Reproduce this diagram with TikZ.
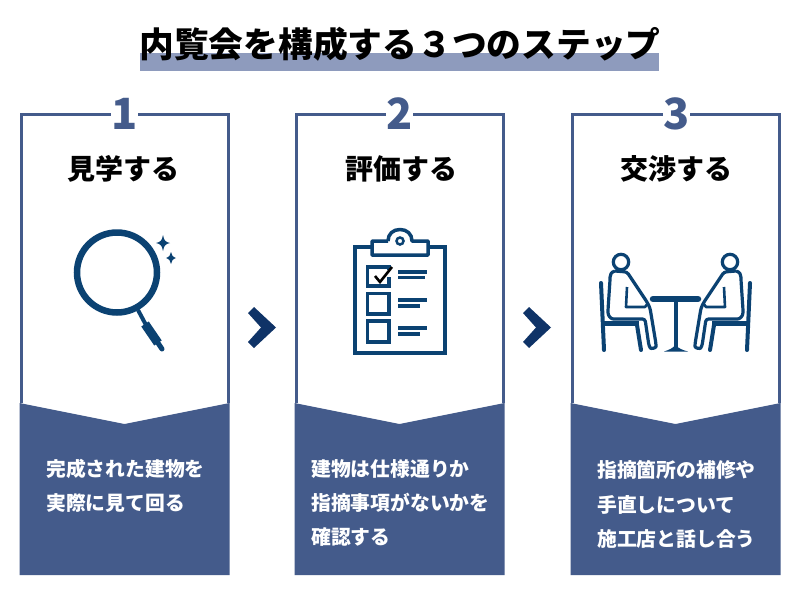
\documentclass[tikz,border=0pt]{standalone}
\usepackage{fontspec}
\setmainfont{Noto Sans CJK JP}
\definecolor{panelc}{HTML}{445B8B}
\definecolor{hl}{HTML}{8E9BBD}
\definecolor{iconc}{HTML}{0B4272}
\definecolor{arrowc}{HTML}{0F3367}
\tikzset{
  panelline/.style={draw=panelc,line width=3pt},
  panelfill/.style={fill=panelc},
  numlabel/.style={font=\fontsize{43}{43}\selectfont\bfseries,text=panelc,fill=white,inner sep=0pt,minimum width=26pt,minimum height=30pt},
  heading/.style={font=\fontsize{28}{30}\selectfont\bfseries,text=black,inner sep=0pt},
  bodytext/.style={font=\fontsize{19.8}{20}\selectfont\bfseries,text=white,inner sep=0pt,anchor=west},
  titletext/.style={font=\fontsize{34.75}{36}\selectfont\bfseries,text=black,inner sep=0pt},
  ic/.style={draw=iconc,line width=3.2pt},
  chev/.style={fill=arrowc},
}
\newcommand{\panelat}[5]{%
  \begin{scope}[shift={(#1,0)}]
    \fill[panelfill] (19.5,403) -- (124.5,424) -- (229.5,403) -- (229.5,575) -- (19.5,575) -- cycle;
    \draw[panelline] (21,403) -- (21,114) -- (228,114) -- (228,403);
    \node[numlabel] (num#2) at (#4,114) {#2};
    \node[heading] (head#2) at (#5,169) {#3};
  \end{scope}}
\newcommand{\personicon}{%
  \draw[ic] (621,262) circle (7.7);
  \draw[ic,line join=round,rounded corners=2.5pt] (615,271) .. controls (611,272) and (610,275) .. (610,280) -- (608,310) .. controls (608,316) and (611,319) .. (616,319) -- (645,319) -- (649,346) .. controls (651,349) and (656,348) .. (656,344) -- (650,308) -- (647,302) -- (627,272) -- (615,271);
  \draw[ic,line join=round,line width=2.6pt] (627,287) -- (626,307) -- (645,307) -- (648,303);
  \draw[iconc,line width=4pt,line cap=round] (601,283) -- (604,350);
  \draw[iconc,line width=5pt] (603,323) -- (639,323);
  \draw[iconc,line width=4pt,line cap=round] (637,325) -- (641,350);
}
\begin{document}
\begin{tikzpicture}[x=1pt,y=-1pt]
\useasboundingbox (0,0) rectangle (800,600);
\fill[white] (0,0) rectangle (800,600);
% title
\fill[hl] (140,53) rectangle (659,71);
\node[titletext] (title) at (400,44) {内覧会を構成する３つのステップ};
% panels
\panelat{0}{1}{見学する}{124.5}{123}
\panelat{275}{2}{評価する}{124.5}{126}
\panelat{551}{3}{交渉する}{125.5}{125.5}
% body texts
\node[bodytext] (b11) at (46,469) {完成された建物を};
\node[bodytext] (b12) at (46,503) {実際に見て回る};
\node[bodytext] (b21) at (311,469) {建物は仕様通りか};
\node[bodytext] (b22) at (311,503) {指摘事項がないかを};
\node[bodytext] (b23) at (311,537) {確認する};
\node[bodytext] (b31) at (597,470) {指摘箇所の補修や};
\node[bodytext] (b32) at (597,505) {手直しについて};
\node[bodytext] (b33) at (597,539) {施工店と話し合う};
% chevrons
\fill[chev] (254,307) -- (276,327.5) -- (254,348) -- (248,342) -- (261,327.5) -- (248,313) -- cycle;
\fill[chev] (529,307) -- (551,327.5) -- (529,348) -- (523,342) -- (536,327.5) -- (523,313) -- cycle;
% magnifier
\draw[iconc,line width=6.5pt] (117,272.5) circle (40);
\draw[iconc,line width=4pt] (138,310) -- (146,325);
\draw[iconc,line width=9pt] (145,324) -- (158,343);
\draw[iconc,line width=5pt,line cap=round] (158,343) -- (162,349);
\fill[iconc] (163,235) .. controls (164,240) and (165,242) .. (170,243) .. controls (165,244) and (164,246) .. (163,251) .. controls (162,246) and (161,244) .. (156,243) .. controls (161,242) and (162,240) .. (163,235) -- cycle;
\fill[iconc] (171,252) .. controls (171.6,255) and (172.6,257) .. (176,258) .. controls (172.6,259) and (171.6,261) .. (171,264) .. controls (170.4,261) and (169.4,259) .. (166,258) .. controls (169.4,257) and (170.4,255) .. (171,252) -- cycle;
% clipboard
\draw[ic,line width=3.5pt] (371,247) -- (355,247) -- (355,353) -- (445,353) -- (445,247) -- (429,247);
\draw[ic,line width=3.5pt,line join=round] (388,241) -- (372,241) -- (372,255) -- (428,255) -- (428,241) -- (412,241) .. controls (412,234) and (407,229.5) .. (400,229.5) .. controls (393,229.5) and (388,234) .. (388,241);
\draw[ic,line width=2.5pt] (400,241) circle (3.5);
\draw[ic] (389,270) -- (389,267) -- (367.5,267) -- (367.5,286) -- (389,286) -- (389,277);
\draw[black,line width=2.6pt] (375,276) -- (380,282) -- (392,267);
\draw[ic] (367.5,293.5) rectangle (389,314);
\draw[ic] (367.5,321) rectangle (389,342);
\draw[ic] (398,272) -- (427,272);
\draw[ic] (398,277.5) -- (425,277.5);
\draw[ic] (398,300) -- (427,300);
\draw[ic] (398,306) -- (420,306);
\draw[ic] (398,328) -- (427,328);
\draw[ic] (398,334) -- (420,334);
% people
\personicon
\begin{scope}[xshift=1351pt,xscale=-1]
\personicon
\end{scope}
\draw[iconc,line width=6.5pt,line cap=round] (653,299) -- (698,299);
\draw[iconc,line width=4pt] (675.5,299) -- (675.5,349);
\fill[iconc] (664,351.5) .. controls (669,350) and (673,348) .. (675.5,345) .. controls (678,348) and (682,350) .. (688,351.5) -- cycle;
\end{tikzpicture}
\end{document}
